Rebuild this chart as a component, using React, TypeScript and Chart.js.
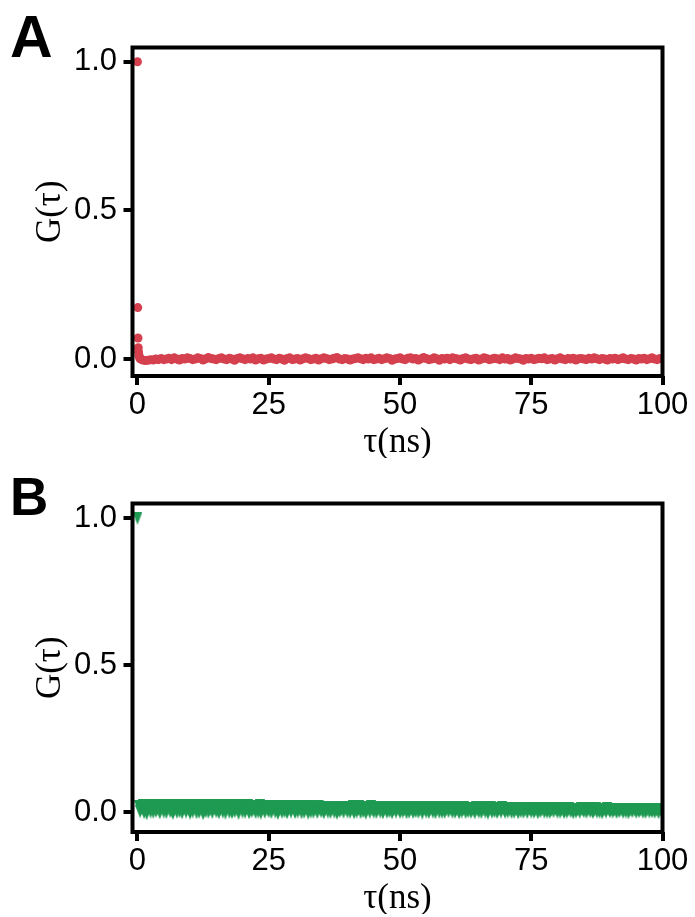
import React, { useEffect, useRef } from 'react';
import { Chart, registerables } from 'chart.js';

Chart.register(...registerables);

const xTicks = [0, 25, 50, 75, 100];
const yTicks = [0, 0.5, 1.0];

// Panel A time grid (ns)
const tauTail = [
  0.5, 1, 1.5, 2, 2.5, 3, 3.5, 4, 4.5, 5,
  5.5, 6, 6.5, 7, 7.5, 8, 8.5, 9, 9.5, 10,
  10.5, 11, 11.5, 12, 12.5, 13, 13.5, 14, 14.5, 15,
  15.5, 16, 16.5, 17, 17.5, 18, 18.5, 19, 19.5, 20,
  20.5, 21, 21.5, 22, 22.5, 23, 23.5, 24, 24.5, 25,
  25.5, 26, 26.5, 27, 27.5, 28, 28.5, 29, 29.5, 30,
  30.5, 31, 31.5, 32, 32.5, 33, 33.5, 34, 34.5, 35,
  35.5, 36, 36.5, 37, 37.5, 38, 38.5, 39, 39.5, 40,
  40.5, 41, 41.5, 42, 42.5, 43, 43.5, 44, 44.5, 45,
  45.5, 46, 46.5, 47, 47.5, 48, 48.5, 49, 49.5, 50,
  50.5, 51, 51.5, 52, 52.5, 53, 53.5, 54, 54.5, 55,
  55.5, 56, 56.5, 57, 57.5, 58, 58.5, 59, 59.5, 60,
  60.5, 61, 61.5, 62, 62.5, 63, 63.5, 64, 64.5, 65,
  65.5, 66, 66.5, 67, 67.5, 68, 68.5, 69, 69.5, 70,
  70.5, 71, 71.5, 72, 72.5, 73, 73.5, 74, 74.5, 75,
  75.5, 76, 76.5, 77, 77.5, 78, 78.5, 79, 79.5, 80,
  80.5, 81, 81.5, 82, 82.5, 83, 83.5, 84, 84.5, 85,
  85.5, 86, 86.5, 87, 87.5, 88, 88.5, 89, 89.5, 90,
  90.5, 91, 91.5, 92, 92.5, 93, 93.5, 94, 94.5, 95,
  95.5, 96, 96.5, 97, 97.5, 98, 98.5, 99, 99.5, 100,
];

// Panel B time grid (ns)
const tauQuarter = [
  0.25, 0.5, 0.75, 1, 1.25, 1.5, 1.75, 2, 2.25, 2.5, 2.75, 3, 3.25, 3.5, 3.75, 4, 4.25, 4.5, 4.75, 5,
  5.25, 5.5, 5.75, 6, 6.25, 6.5, 6.75, 7, 7.25, 7.5, 7.75, 8, 8.25, 8.5, 8.75, 9, 9.25, 9.5, 9.75, 10,
  10.25, 10.5, 10.75, 11, 11.25, 11.5, 11.75, 12, 12.25, 12.5, 12.75, 13, 13.25, 13.5, 13.75, 14, 14.25, 14.5, 14.75, 15,
  15.25, 15.5, 15.75, 16, 16.25, 16.5, 16.75, 17, 17.25, 17.5, 17.75, 18, 18.25, 18.5, 18.75, 19, 19.25, 19.5, 19.75, 20,
  20.25, 20.5, 20.75, 21, 21.25, 21.5, 21.75, 22, 22.25, 22.5, 22.75, 23, 23.25, 23.5, 23.75, 24, 24.25, 24.5, 24.75, 25,
  25.25, 25.5, 25.75, 26, 26.25, 26.5, 26.75, 27, 27.25, 27.5, 27.75, 28, 28.25, 28.5, 28.75, 29, 29.25, 29.5, 29.75, 30,
  30.25, 30.5, 30.75, 31, 31.25, 31.5, 31.75, 32, 32.25, 32.5, 32.75, 33, 33.25, 33.5, 33.75, 34, 34.25, 34.5, 34.75, 35,
  35.25, 35.5, 35.75, 36, 36.25, 36.5, 36.75, 37, 37.25, 37.5, 37.75, 38, 38.25, 38.5, 38.75, 39, 39.25, 39.5, 39.75, 40,
  40.25, 40.5, 40.75, 41, 41.25, 41.5, 41.75, 42, 42.25, 42.5, 42.75, 43, 43.25, 43.5, 43.75, 44, 44.25, 44.5, 44.75, 45,
  45.25, 45.5, 45.75, 46, 46.25, 46.5, 46.75, 47, 47.25, 47.5, 47.75, 48, 48.25, 48.5, 48.75, 49, 49.25, 49.5, 49.75, 50,
  50.25, 50.5, 50.75, 51, 51.25, 51.5, 51.75, 52, 52.25, 52.5, 52.75, 53, 53.25, 53.5, 53.75, 54, 54.25, 54.5, 54.75, 55,
  55.25, 55.5, 55.75, 56, 56.25, 56.5, 56.75, 57, 57.25, 57.5, 57.75, 58, 58.25, 58.5, 58.75, 59, 59.25, 59.5, 59.75, 60,
  60.25, 60.5, 60.75, 61, 61.25, 61.5, 61.75, 62, 62.25, 62.5, 62.75, 63, 63.25, 63.5, 63.75, 64, 64.25, 64.5, 64.75, 65,
  65.25, 65.5, 65.75, 66, 66.25, 66.5, 66.75, 67, 67.25, 67.5, 67.75, 68, 68.25, 68.5, 68.75, 69, 69.25, 69.5, 69.75, 70,
  70.25, 70.5, 70.75, 71, 71.25, 71.5, 71.75, 72, 72.25, 72.5, 72.75, 73, 73.25, 73.5, 73.75, 74, 74.25, 74.5, 74.75, 75,
  75.25, 75.5, 75.75, 76, 76.25, 76.5, 76.75, 77, 77.25, 77.5, 77.75, 78, 78.25, 78.5, 78.75, 79, 79.25, 79.5, 79.75, 80,
  80.25, 80.5, 80.75, 81, 81.25, 81.5, 81.75, 82, 82.25, 82.5, 82.75, 83, 83.25, 83.5, 83.75, 84, 84.25, 84.5, 84.75, 85,
  85.25, 85.5, 85.75, 86, 86.25, 86.5, 86.75, 87, 87.25, 87.5, 87.75, 88, 88.25, 88.5, 88.75, 89, 89.25, 89.5, 89.75, 90,
  90.25, 90.5, 90.75, 91, 91.25, 91.5, 91.75, 92, 92.25, 92.5, 92.75, 93, 93.25, 93.5, 93.75, 94, 94.25, 94.5, 94.75, 95,
  95.25, 95.5, 95.75, 96, 96.25, 96.5, 96.75, 97, 97.25, 97.5, 97.75, 98, 98.25, 98.5, 98.75, 99, 99.25, 99.5, 99.75, 100,
];

// Panel A: early samples (ns) before the regular grid
const tauAHead = [0, 0.05, 0.1, 0.15, 0.2, 0.3, 0.4];
const gAHead = [1.0, 0.173, 0.071, 0.038, 0.024, 0.012, 0.005];
const gATail = [
  0.001, -0.003, -0.005, -0.004, -0.002, -0.003, 0.000, -0.002, 0.002, -0.002,
  0.000, 0.003, -0.002, 0.004, 0.000, -0.003, 0.002, 0.000, 0.004, 0.002,
  -0.002, 0.000, 0.004, 0.002, -0.003, 0.001, 0.005, 0.002, 0.000, -0.002,
  0.002, 0.004, 0.000, -0.002, 0.003, 0.000, -0.004, 0.002, 0.004, 0.001,
  -0.002, 0.002, 0.000, 0.004, -0.003, 0.001, 0.003, -0.003, 0.000, 0.002,
  0.004, 0.000, -0.002, 0.003, 0.000, -0.004, 0.002, 0.004, -0.002, 0.000,
  0.002, -0.003, 0.001, 0.004, 0.002, -0.002, 0.000, 0.003, -0.003, 0.001,
  0.004, 0.002, -0.002, 0.000, 0.003, 0.005, 0.000, -0.002, 0.002, 0.000,
  -0.003, 0.000, 0.002, 0.004, 0.001, -0.002, 0.003, 0.000, 0.004, -0.002,
  0.000, 0.003, -0.002, 0.001, 0.004, 0.002, -0.004, 0.000, 0.002, 0.004,
  0.000, -0.002, 0.003, 0.004, 0.000, 0.002, -0.003, 0.001, 0.005, 0.002,
  -0.002, 0.000, 0.004, 0.001, -0.004, 0.002, 0.000, 0.003, -0.002, 0.004,
  0.002, 0.000, -0.003, 0.002, 0.004, 0.000, -0.002, 0.001, 0.003, -0.003,
  0.000, 0.004, 0.002, -0.002, 0.000, 0.003, 0.001, -0.002, 0.004, 0.000,
  0.002, -0.003, 0.000, 0.004, 0.002, 0.000, -0.004, 0.002, 0.000, 0.003,
  -0.002, 0.000, 0.003, 0.001, 0.004, -0.002, 0.000, 0.002, -0.003, 0.001,
  0.004, 0.000, -0.002, 0.002, 0.000, 0.003, -0.003, 0.001, 0.002, 0.000,
  -0.002, 0.003, 0.000, 0.004, 0.001, -0.002, 0.002, 0.000, -0.003, 0.002,
  0.000, 0.003, -0.002, 0.001, 0.004, 0.000, -0.002, 0.002, 0.000, -0.003,
  0.002, 0.000, 0.003, -0.002, 0.001, 0.004, 0.000, -0.002, 0.002, 0.000,
];

// Panel B
const tauBHead = [0];
const gBHead = [1.0];
const gBTail = [
  0.020, 0.002, 0.012, 0.023, -0.001, 0.024, -0.005, 0.010, 0.022, 0.001, 0.015, 0.000, 0.024, 0.003, 0.011, 0.021, -0.002, 0.023, 0.013, 0.001,
  0.022, -0.001, 0.014, 0.024, 0.002, 0.019, -0.004, 0.009, 0.023, 0.000, 0.016, 0.002, 0.024, -0.002, 0.012, 0.020, 0.001, 0.023, 0.010, -0.003,
  0.021, 0.001, 0.013, 0.023, -0.002, 0.020, 0.000, 0.011, 0.022, -0.005, 0.014, 0.002, 0.023, 0.000, 0.009, 0.021, -0.001, 0.022, 0.012, 0.002,
  0.023, -0.002, 0.010, 0.024, 0.001, 0.022, -0.003, 0.013, 0.024, 0.000, 0.015, -0.001, 0.023, 0.002, 0.011, 0.020, -0.004, 0.024, 0.014, 0.001,
  0.020, 0.000, 0.012, 0.022, -0.002, 0.019, 0.002, 0.010, 0.021, -0.001, 0.014, 0.001, 0.022, -0.003, 0.011, 0.018, 0.000, 0.021, 0.009, 0.002,
  0.019, -0.001, 0.011, 0.020, 0.001, 0.017, -0.004, 0.009, 0.020, 0.000, 0.013, 0.002, 0.019, -0.002, 0.010, 0.018, 0.001, 0.020, 0.012, -0.001,
  0.020, 0.001, 0.010, 0.021, -0.002, 0.018, 0.000, 0.012, 0.021, -0.003, 0.014, 0.001, 0.020, 0.000, 0.009, 0.019, -0.001, 0.021, 0.011, 0.002,
  0.017, -0.002, 0.009, 0.018, 0.001, 0.016, -0.001, 0.010, 0.018, 0.000, 0.012, -0.003, 0.017, 0.002, 0.008, 0.016, 0.000, 0.018, 0.011, 0.001,
  0.018, 0.000, 0.010, 0.019, -0.002, 0.017, 0.001, 0.009, 0.019, -0.001, 0.013, 0.002, 0.018, -0.003, 0.011, 0.016, 0.000, 0.019, 0.008, 0.001,
  0.016, -0.001, 0.009, 0.017, 0.001, 0.015, -0.002, 0.010, 0.017, 0.000, 0.011, 0.002, 0.016, -0.002, 0.008, 0.015, 0.001, 0.017, 0.010, 0.000,
  0.015, 0.001, 0.008, 0.016, -0.002, 0.014, 0.000, 0.009, 0.016, -0.001, 0.011, 0.002, 0.015, 0.000, 0.008, 0.014, -0.003, 0.016, 0.010, 0.001,
  0.016, -0.001, 0.009, 0.017, 0.001, 0.014, -0.002, 0.010, 0.017, 0.000, 0.012, 0.001, 0.016, -0.001, 0.008, 0.015, 0.002, 0.017, 0.009, 0.000,
  0.014, 0.000, 0.008, 0.015, -0.002, 0.013, 0.001, 0.009, 0.015, -0.001, 0.010, 0.002, 0.014, 0.000, 0.007, 0.013, -0.002, 0.015, 0.009, 0.001,
  0.014, -0.001, 0.008, 0.015, 0.001, 0.013, -0.003, 0.009, 0.015, 0.000, 0.011, 0.002, 0.014, -0.001, 0.007, 0.013, 0.001, 0.015, 0.010, 0.000,
  0.013, 0.001, 0.007, 0.014, -0.001, 0.012, 0.000, 0.008, 0.014, -0.002, 0.010, 0.002, 0.013, 0.000, 0.007, 0.012, -0.001, 0.014, 0.009, 0.001,
  0.012, 0.000, 0.007, 0.013, -0.002, 0.011, 0.002, 0.008, 0.013, 0.000, 0.009, 0.001, 0.012, -0.001, 0.006, 0.011, 0.002, 0.013, 0.008, 0.000,
  0.011, 0.001, 0.006, 0.012, -0.001, 0.010, 0.000, 0.007, 0.012, 0.002, 0.009, -0.002, 0.011, 0.001, 0.006, 0.010, 0.000, 0.012, 0.008, 0.002,
  0.011, 0.000, 0.007, 0.012, 0.002, 0.010, -0.001, 0.006, 0.012, 0.001, 0.008, 0.000, 0.011, -0.002, 0.007, 0.010, 0.001, 0.012, 0.008, 0.002,
  0.010, 0.001, 0.006, 0.011, -0.001, 0.009, 0.002, 0.007, 0.011, 0.000, 0.008, 0.001, 0.010, -0.002, 0.006, 0.009, 0.002, 0.011, 0.007, 0.000,
  0.010, 0.002, 0.006, 0.011, 0.000, 0.009, -0.001, 0.007, 0.011, 0.001, 0.008, 0.002, 0.010, 0.000, 0.006, 0.009, -0.002, 0.011, 0.007, 0.001,
];

const tauA = [...tauAHead, ...tauTail];
const gA = [...gAHead, ...gATail];
const tauB = [...tauBHead, ...tauQuarter];
const gB = [...gBHead, ...gBTail];

const RED = '#d5404f';
const GREEN = '#1f9a52';

const TICK_FONT = { family: '"Liberation Sans", Arial, Helvetica, sans-serif', size: 31 };
const TITLE_FONT = { family: '"Liberation Serif", "DejaVu Serif", serif', size: 35, lineHeight: 1.2 };

function makeDownTriangle(color: string, w: number, h: number) {
  const c = document.createElement('canvas');
  c.width = w;
  c.height = h;
  const ctx = c.getContext('2d')!;
  ctx.fillStyle = color;
  ctx.beginPath();
  ctx.moveTo(0, 0);
  ctx.lineTo(w, 0);
  ctx.lineTo(w / 2, h);
  ctx.closePath();
  ctx.fill();
  return c;
}

const framePlugin = {
  id: 'frameLetter',
  afterDraw(chart: any, _args: any, opts: any) {
    const { ctx, chartArea } = chart;
    ctx.save();
    ctx.lineWidth = 4;
    ctx.strokeStyle = '#000';
    ctx.strokeRect(chartArea.left, chartArea.top, chartArea.right - chartArea.left, chartArea.bottom - chartArea.top);
    ctx.fillStyle = '#000';
    ctx.font = `bold ${opts.size}px "Liberation Sans", Arial, sans-serif`;
    ctx.textBaseline = 'alphabetic';
    ctx.textAlign = 'left';
    ctx.fillText(opts.letter, opts.x, opts.baseline);
    ctx.restore();
  },
};

type PanelProps = {
  tau: number[];
  g: number[];
  color: string;
  marker: 'dot' | 'tri';
  letter: string;
  letterSize: number;
  letterBaseline: number;
  yMin: number;
  yMax: number;
  top: number;
};

function Panel(p: PanelProps) {
  const ref = useRef<HTMLCanvasElement>(null);
  useEffect(() => {
    const canvas = ref.current!;
    const pointStyle = p.marker === 'tri' ? makeDownTriangle(p.color, 10, 13) : 'circle';
    const chart = new Chart(canvas, {
      type: 'scatter',
      data: {
        datasets: [
          {
            data: p.tau.map((t, i) => ({ x: t, y: p.g[i] })),
            backgroundColor: p.color,
            borderColor: p.color,
            borderWidth: 0,
            pointRadius: p.marker === 'tri' ? 5 : 4.5,
            pointStyle: pointStyle as any,
            showLine: false,
          },
        ],
      },
      options: {
        responsive: false,
        animation: false,
        devicePixelRatio: 1,
        events: [],
        layout: { padding: { left: 0, right: 32.5, top: 47.5, bottom: 0 } },
        plugins: {
          legend: { display: false },
          tooltip: { enabled: false },
          frameLetter: { letter: p.letter, size: p.letterSize, x: 10, baseline: p.letterBaseline },
        } as any,
        scales: {
          x: {
            type: 'linear',
            position: 'bottom',
            min: -0.95,
            max: 100,
            afterBuildTicks: (s: any) => {
              s.ticks = xTicks.map((v) => ({ value: v }));
            },
            afterFit: (s: any) => {
              s.height = 82;
            },
            ticks: { font: TICK_FONT, color: '#000', padding: 2, callback: (v: any) => String(v) },
            grid: { drawOnChartArea: false, drawTicks: true, tickLength: 9, lineWidth: 4, color: '#000' },
            border: { display: false },
            title: { display: true, text: 'τ(ns)', font: TITLE_FONT, color: '#000', padding: { top: 0, bottom: -6 } },
          },
          y: {
            type: 'linear',
            min: p.yMin,
            max: p.yMax,
            afterBuildTicks: (s: any) => {
              s.ticks = yTicks.map((v) => ({ value: v }));
            },
            afterFit: (s: any) => {
              s.width = 132.5;
            },
            ticks: { font: TICK_FONT, color: '#000', padding: 6.5, callback: (v: any) => Number(v).toFixed(1) },
            grid: { drawOnChartArea: false, drawTicks: true, tickLength: 9, lineWidth: 4, color: '#000' },
            border: { display: false },
            title: { display: true, text: 'G(τ)', font: TITLE_FONT, color: '#000', padding: { top: 30, bottom: 0 } },
          },
        },
      },
      plugins: [framePlugin],
    });
    return () => chart.destroy();
  }, []);
  return (
    <div style={{ position: 'absolute', left: 0, top: p.top, width: 695, height: 458 }}>
      <canvas ref={ref} width={695} height={458} style={{ display: 'block', width: 695, height: 458 }} />
    </div>
  );
}

export default function App() {
  return (
    <div style={{ position: 'fixed', left: 0, top: 0, width: 695, height: 917, background: '#fff', overflow: 'hidden' }}>
      <Panel tau={tauA} g={gA} color={RED} marker="dot" letter="A" letterSize={59} letterBaseline={57} yMin={-0.057} yMax={1.048} top={0} />
      <Panel tau={tauB} g={gB} color={GREEN} marker="tri" letter="B" letterSize={53} letterBaseline={59} yMin={-0.067} yMax={1.05} top={456} />
    </div>
  );
}
